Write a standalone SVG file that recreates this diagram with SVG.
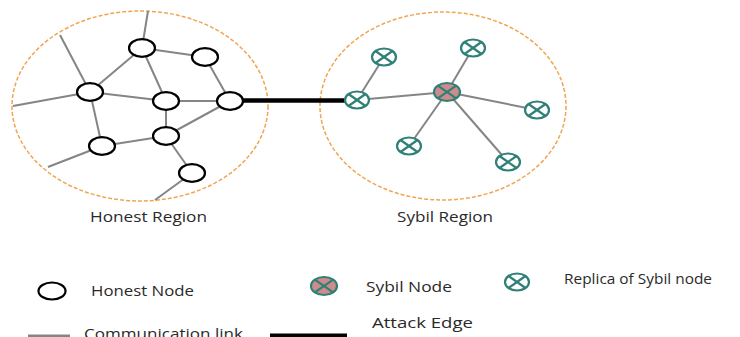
<svg xmlns="http://www.w3.org/2000/svg" width="740" height="337" viewBox="0 0 740 337">
<defs>
<style>
.region{fill:none;stroke:#f0a552;stroke-width:1.5;stroke-dasharray:4 2}
.link{stroke:#858585;stroke-width:2;fill:none}
.attack{stroke:#000;stroke-width:4.5;fill:none}
.hn{fill:#fff;stroke:#000;stroke-width:2.2}
.rep{fill:#fff;stroke:#2f8077;stroke-width:2.2}
.syb{fill:#cf8b8b;stroke:#2f8077;stroke-width:2.2}
.x{stroke:#2f8077;stroke-width:2.2}
.lbl{font-family:"Open Sans","Noto Sans",sans-serif;font-size:14px;fill:#2a2a2a}
</style>
<g id="replica">
<ellipse class="rep" cx="0" cy="0" rx="12" ry="8.5"/>
<line class="x" x1="-8.5" y1="-6" x2="8.5" y2="6"/>
<line class="x" x1="-8.5" y1="6" x2="8.5" y2="-6"/>
</g>
<g id="sybil">
<ellipse class="syb" cx="0" cy="0" rx="13" ry="9"/>
<line class="x" x1="-9.2" y1="-6.4" x2="9.2" y2="6.4"/>
<line class="x" x1="-9.2" y1="6.4" x2="9.2" y2="-6.4"/>
</g>
</defs>
<rect width="740" height="337" fill="#fff"/>
<g id="regions">
<ellipse id="honest-region" class="region" cx="140" cy="106" rx="128" ry="95"/>
<ellipse id="sybil-region" class="region" cx="443" cy="106" rx="123" ry="94"/>
</g>
<g id="connectors">
<line class="link" x1="148" y1="11" x2="142" y2="48"/>
<line class="link" x1="142" y1="48" x2="205" y2="57"/>
<line class="link" x1="142" y1="48" x2="90" y2="92"/>
<line class="link" x1="142" y1="48" x2="166" y2="101"/>
<line class="link" x1="205" y1="57" x2="230" y2="101"/>
<line class="link" x1="13" y1="106" x2="90" y2="92"/>
<line class="link" x1="60" y1="35" x2="90" y2="92"/>
<line class="link" x1="90" y1="92" x2="166" y2="101"/>
<line class="link" x1="90" y1="92" x2="102" y2="146"/>
<line class="link" x1="166" y1="101" x2="230" y2="101"/>
<line class="link" x1="166" y1="101" x2="166" y2="136"/>
<line class="link" x1="230" y1="101" x2="166" y2="136"/>
<line class="link" x1="166" y1="136" x2="102" y2="146"/>
<line class="link" x1="102" y1="146" x2="48" y2="167"/>
<line class="link" x1="166" y1="136" x2="192" y2="173"/>
<line class="link" x1="192" y1="173" x2="155" y2="200"/>
<line class="attack" x1="243" y1="100.5" x2="345" y2="100.5"/>
<line class="link" x1="384" y1="57" x2="357" y2="100"/>
<line class="link" x1="357" y1="100" x2="447" y2="92"/>
<line class="link" x1="473" y1="48" x2="447" y2="92"/>
<line class="link" x1="447" y1="92" x2="537" y2="110"/>
<line class="link" x1="447" y1="92" x2="409" y2="146"/>
<line class="link" x1="447" y1="92" x2="508" y2="162"/>
</g>
<g id="honest-nodes">
<ellipse id="hA" class="hn" cx="142" cy="48" rx="13" ry="8.8"/>
<ellipse id="hB" class="hn" cx="205" cy="57" rx="13" ry="8.8"/>
<ellipse id="hC" class="hn" cx="90" cy="92" rx="13" ry="8.8"/>
<ellipse id="hD" class="hn" cx="166" cy="101" rx="13" ry="8.8"/>
<ellipse id="hE" class="hn" cx="230" cy="101" rx="13" ry="8.8"/>
<ellipse id="hF" class="hn" cx="166" cy="136" rx="13" ry="8.8"/>
<ellipse id="hG" class="hn" cx="102" cy="146" rx="13" ry="8.8"/>
<ellipse id="hH" class="hn" cx="192" cy="173" rx="13" ry="8.8"/>
</g>
<g id="sybil-nodes">
<use id="r1" href="#replica" x="384" y="57"/>
<use id="r2" href="#replica" x="473" y="48"/>
<use id="r-attack" href="#replica" x="357" y="100"/>
<use id="r3" href="#replica" x="537" y="110"/>
<use id="r4" href="#replica" x="409" y="146"/>
<use id="r5" href="#replica" x="508" y="162"/>
<use id="s-main" href="#sybil" x="447" y="92"/>
</g>
<g id="region-labels">
<text class="lbl" x="90" y="222" textLength="117" lengthAdjust="spacingAndGlyphs">Honest Region</text>
<text class="lbl" x="397" y="222" textLength="96" lengthAdjust="spacingAndGlyphs">Sybil Region</text>
</g>
<g id="legend">
<g id="legend-honest">
<ellipse class="hn" cx="52" cy="291" rx="13.5" ry="8.5"/>
<text class="lbl" x="91" y="296" textLength="103" lengthAdjust="spacingAndGlyphs">Honest Node</text>
</g>
<g id="legend-sybil">
<use href="#sybil" x="324" y="286"/>
<text class="lbl" x="366" y="292" textLength="86" lengthAdjust="spacingAndGlyphs">Sybil Node</text>
</g>
<g id="legend-replica">
<use href="#replica" x="517" y="282"/>
<text class="lbl" x="564" y="284" textLength="148" lengthAdjust="spacingAndGlyphs">Replica of Sybil node</text>
</g>
<g id="legend-link">
<line x1="28" y1="336" x2="70" y2="336" stroke="#858585" stroke-width="3"/>
<text class="lbl" x="84" y="339" textLength="159" lengthAdjust="spacingAndGlyphs">Communication link</text>
</g>
<g id="legend-attack">
<line x1="270" y1="336" x2="347" y2="336" stroke="#000" stroke-width="5"/>
<text class="lbl" x="372" y="328" textLength="101" lengthAdjust="spacingAndGlyphs">Attack Edge</text>
</g>
</g>
</svg>
